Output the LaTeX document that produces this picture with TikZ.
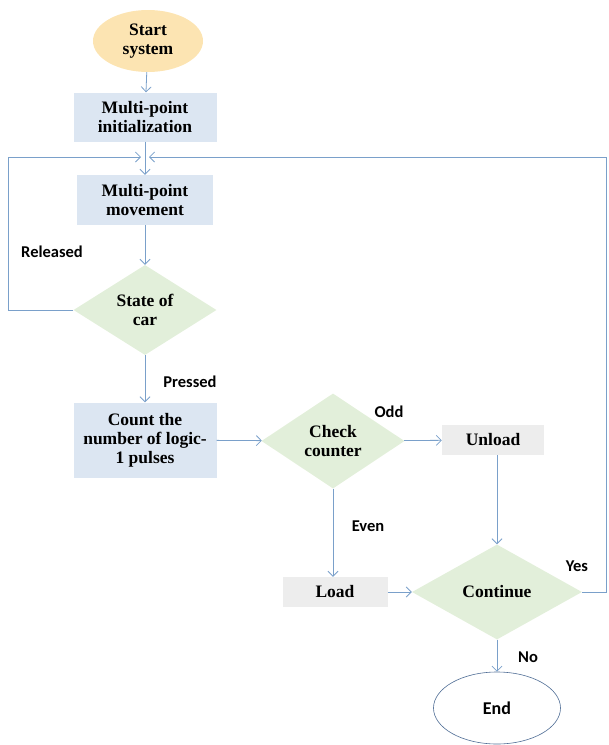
\documentclass[tikz,border=0pt]{standalone}
\usepackage{fontspec}
\setmainfont{Liberation Serif}
\newfontfamily\labelfont{Carlito}
\usepackage{xcolor}
\usetikzlibrary{shapes.geometric,arrows.meta,positioning,calc}

\definecolor{startfill}{RGB}{252,228,178}
\definecolor{boxfill}{RGB}{220,230,242}
\definecolor{decfill}{RGB}{226,239,218}
\definecolor{greyfill}{RGB}{237,237,237}
\definecolor{flowline}{RGB}{122,160,202}
\definecolor{endline}{RGB}{80,110,150}

\begin{document}
\begin{tikzpicture}[x=1pt,y=-1pt,
    procbox/.style={rectangle,fill=boxfill,align=center,inner sep=0pt,
        font=\fontsize{17.5}{19}\selectfont\bfseries},
    decision/.style={diamond,fill=decfill,align=center,inner sep=0pt,
        font=\fontsize{17.5}{19}\selectfont\bfseries},
    greybox/.style={rectangle,fill=greyfill,align=center,inner sep=0pt,
        font=\fontsize{17.5}{19}\selectfont\bfseries},
    flowlabel/.style={font=\labelfont\fontsize{16.5}{18}\selectfont\bfseries},
    flow/.style={draw=flowline,line width=0.8pt,-{Straight Barb[length=5pt,width=10pt]}}]
    \useasboundingbox (0,0) rectangle (609,745);

    % Terminals
    \node[ellipse,fill=startfill,minimum width=110,minimum height=62,inner sep=0pt,
        align=center,font=\fontsize{17.5}{19}\selectfont\bfseries] (start) at (148,41) {Start\\system};
    \node[ellipse,draw=endline,line width=0.6pt,fill=white,minimum width=127,minimum height=72,
        inner sep=0pt,font=\labelfont\fontsize{18}{20}\selectfont\bfseries] (stop) at (497,708) {End};

    % Process boxes
    \node[procbox,minimum width=143,minimum height=49] (init) at (145,117) {Multi-point\\initialization};
    \node[procbox,minimum width=136,minimum height=50] (move) at (145,200) {Multi-point\\movement};
    \node[procbox,minimum width=143,minimum height=75] (count) at (145,440) {Count the\\number of logic-\\1 pulses};
    \node[greybox,minimum width=102,minimum height=30] (unload) at (493,440) {Unload};
    \node[greybox,minimum width=105,minimum height=30] (load) at (335,592) {Load};

    % Decisions
    \node[decision,minimum width=143,minimum height=90] (state) at (145,310) {State of\\car};
    \node[decision,minimum width=143,minimum height=95] (check) at (333,441) {Check\\counter};
    \node[decision,minimum width=170,minimum height=95] (cont) at (497,592) {Continue};

    % Loop merge point
    \coordinate (merge) at (145,157);
    \coordinate (leftrail) at (8,0);
    \coordinate (rightrail) at (606,0);

    % Connectors
    \draw[flow] (start) -- (init);
    \draw[flow] (init) -- (move);
    \draw[flow] (move) -- (state);
    \draw[flow] (state) -- (count);
    \draw[flow] (count) -- (check);
    \draw[flow] (check) -- (unload);
    \draw[flow] (check) -- (check |- load.north);
    \draw[flow] (unload.south -| cont.north) -- (cont.north);
    \draw[flow] (load) -- (cont);
    \draw[flow] (cont) -- (stop);
    \draw[flow] (state.west) -- (state.west -| leftrail) |- ([xshift=-4pt]merge);
    \draw[flow] (cont.east) -- (cont.east -| rightrail) |- ([xshift=4pt]merge);

    % Labels
    \node[flowlabel] (released) at (52,252) {Released};
    \node[flowlabel] (pressed) at (190,382) {Pressed};
    \node[flowlabel] (odd) at (389,412) {Odd};
    \node[flowlabel] (even) at (368,526) {Even};
    \node[flowlabel] (yes) at (577,566) {Yes};
    \node[flowlabel] (no) at (528,657) {No};
\end{tikzpicture}
\end{document}
